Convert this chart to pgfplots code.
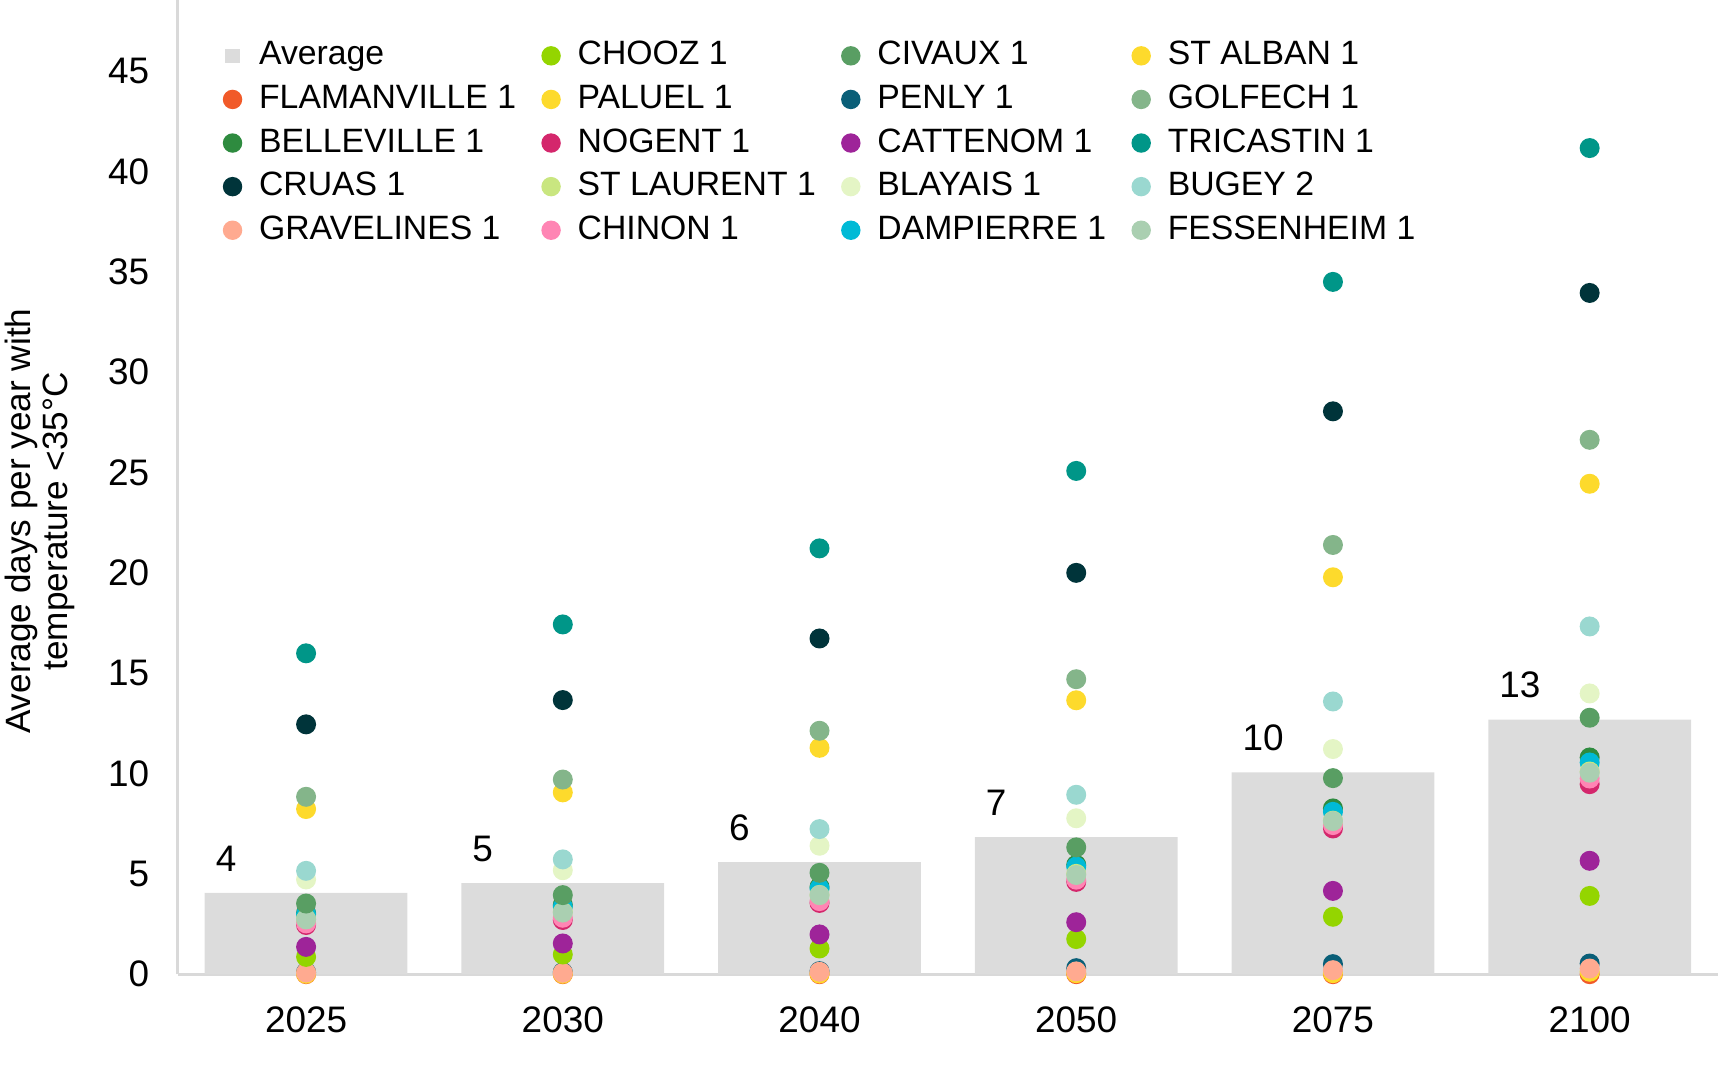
\documentclass[border=0pt]{standalone}
\usepackage{fontspec}
\setmainfont{Liberation Sans}
\usepackage{pgfplots}
\pgfplotsset{compat=1.18}
\definecolor{avg}{HTML}{DCDCDC}
\definecolor{axisgray}{HTML}{D9D9D9}
\definecolor{cFla}{HTML}{F15A29}
\definecolor{cBel}{HTML}{2E8B3F}
\definecolor{cCru}{HTML}{00343A}
\definecolor{cGra}{HTML}{FFAA90}
\definecolor{cCho}{HTML}{94D500}
\definecolor{cPal}{HTML}{FDDA2C}
\definecolor{cNog}{HTML}{D4276C}
\definecolor{cStL}{HTML}{C9E680}
\definecolor{cChi}{HTML}{FF85B4}
\definecolor{cCiv}{HTML}{599E63}
\definecolor{cPen}{HTML}{0A5F78}
\definecolor{cCat}{HTML}{9E2499}
\definecolor{cBla}{HTML}{E4F5C5}
\definecolor{cDam}{HTML}{00BAD6}
\definecolor{cSta}{HTML}{FDDA2C}
\definecolor{cGol}{HTML}{84B58A}
\definecolor{cTri}{HTML}{009688}
\definecolor{cBug}{HTML}{9AD8D0}
\definecolor{cFes}{HTML}{AACFB1}
\pgfplotsset{
  dotleg/.style={legend image code/.code={\fill[#1] (0cm,0cm) circle (0.09cm);}},
  sqleg/.style={legend image code/.code={\fill[#1] (-0.065cm,-0.065cm) rectangle (0.065cm,0.065cm);}},
  dot/.style={forget plot, only marks, mark=*, mark size=2.64pt, color=#1, mark options={draw=none, fill=#1}},
}
\begin{document}
\begin{tikzpicture}
\begin{axis}[
  name=ax,
  scale only axis,
  width=15.40cm, height=9.74cm,
  xmin=-0.5, xmax=5.5, ymin=0, ymax=48.55,
  axis x line*=bottom, axis y line*=left,
  axis line style={-, draw=axisgray, line width=0.9pt},
  every outer x axis line/.append style={-},
  every outer y axis line/.append style={-},
  xtick={0,...,5}, xticklabels={2025,2030,2040,2050,2075,2100},
  ytick={0,5,...,45},
  major tick length=0pt,
  tick style={draw=none},
  /pgf/number format/assume math mode=true,
  tick label style={font=\fontsize{10.5}{12}\selectfont},
  xticklabel style={yshift=-0.2cm},
  yticklabel style={xshift=-0.162cm},
  ylabel={Average days per year with\\temperature <35°C},
  ylabel style={at={(axis description cs:-0.0894,0.465)}, anchor=center, align=center, font=\fontsize{10}{10.5}\selectfont},
  clip=false,
  legend columns=5, transpose legend,
  legend style={at={(axis description cs:0,1)}, anchor=north west, xshift=0.444cm, yshift=-0.337cm,
    draw=none, fill=none, inner xsep=0pt, inner ysep=0pt,
    font=\fontsize{9.6}{11.5}\selectfont, cells={anchor=west}, row sep=0.2pt,
    /tikz/every odd column/.append style={column sep=2.8pt},
    /tikz/every even column/.append style={column sep=5.2pt}},
]
% legend
\addlegendimage{sqleg=avg}\addlegendentry{Average}
\addlegendimage{dotleg=cFla}\addlegendentry{FLAMANVILLE 1}
\addlegendimage{dotleg=cBel}\addlegendentry{BELLEVILLE 1}
\addlegendimage{dotleg=cCru}\addlegendentry{CRUAS 1}
\addlegendimage{dotleg=cGra}\addlegendentry{GRAVELINES 1}
\addlegendimage{dotleg=cCho}\addlegendentry{CHOOZ 1}
\addlegendimage{dotleg=cPal}\addlegendentry{PALUEL 1}
\addlegendimage{dotleg=cNog}\addlegendentry{NOGENT 1}
\addlegendimage{dotleg=cStL}\addlegendentry{ST LAURENT 1}
\addlegendimage{dotleg=cChi}\addlegendentry{CHINON 1}
\addlegendimage{dotleg=cCiv}\addlegendentry{CIVAUX 1}
\addlegendimage{dotleg=cPen}\addlegendentry{PENLY 1}
\addlegendimage{dotleg=cCat}\addlegendentry{CATTENOM 1}
\addlegendimage{dotleg=cBla}\addlegendentry{BLAYAIS 1}
\addlegendimage{dotleg=cDam}\addlegendentry{DAMPIERRE 1}
\addlegendimage{dotleg=cSta}\addlegendentry{ST ALBAN 1}
\addlegendimage{dotleg=cGol}\addlegendentry{GOLFECH 1}
\addlegendimage{dotleg=cTri}\addlegendentry{TRICASTIN 1}
\addlegendimage{dotleg=cBug}\addlegendentry{BUGEY 2}
\addlegendimage{dotleg=cFes}\addlegendentry{FESSENHEIM 1}
% average bars
\addplot[forget plot, ybar, bar width=0.79, bar shift=0pt, fill=avg, draw=none,
  point meta=explicit symbolic, nodes near coords,
  every node near coord/.append style={anchor=south west, inner sep=0pt, xshift=-0.91cm, yshift=0.21cm, font=\fontsize{10.5}{12}\selectfont, text=black}]
  coordinates {(0,4.05) [4] (1,4.54) [5] (2,5.58) [6] (3,6.83) [7] (4,10.06) [10] (5,12.68) [13]};
% plants (x: 0=2025, 1=2030, 2=2040, 3=2050, 4=2075, 5=2100)
\addplot[dot=cPen] coordinates {(0,0.10) (1,0.10) (2,0.15) (3,0.30) (4,0.50) (5,0.53)};
\addplot[dot=cFla] coordinates {(0,0.00) (1,0.00) (2,0.00) (3,0.00) (4,0.00) (5,0.00)};
\addplot[dot=cPal] coordinates {(0,0.02) (1,0.02) (2,0.03) (3,0.05) (4,0.05) (5,0.12)};
\addplot[dot=cGra] coordinates {(0,0.08) (1,0.07) (2,0.12) (3,0.14) (4,0.20) (5,0.28)};
\addplot[dot=cCho] coordinates {(0,0.86) (1,0.98) (2,1.28) (3,1.75) (4,2.86) (5,3.90)};
\addplot[dot=cCat] coordinates {(0,1.36) (1,1.53) (2,1.98) (3,2.59) (4,4.15) (5,5.65)};
\addplot[dot=cBel] coordinates {(0,3.05) (1,3.45) (2,4.35) (3,5.45) (4,8.26) (5,10.80)};
\addplot[dot=cNog] coordinates {(0,2.45) (1,2.70) (2,3.55) (3,4.60) (4,7.26) (5,9.47)};
\addplot[dot=cChi] coordinates {(0,2.53) (1,2.81) (2,3.64) (3,4.71) (4,7.43) (5,9.75)};
\addplot[dot=cDam] coordinates {(0,2.99) (1,3.36) (2,4.27) (3,5.36) (4,8.09) (5,10.55)};
\addplot[dot=cStL] coordinates {(0,2.75) (1,3.10) (2,3.95) (3,5.00) (4,7.65) (5,10.10)};
\addplot[dot=cFes] coordinates {(0,2.73) (1,3.07) (2,3.94) (3,4.94) (4,7.63) (5,10.04)};
\addplot[dot=cCiv] coordinates {(0,3.52) (1,3.94) (2,5.05) (3,6.32) (4,9.77) (5,12.78)};
\addplot[dot=cBla] coordinates {(0,4.72) (1,5.18) (2,6.40) (3,7.77) (4,11.22) (5,13.99)};
\addplot[dot=cBug] coordinates {(0,5.15) (1,5.72) (2,7.23) (3,8.94) (4,13.59) (5,17.33)};
\addplot[dot=cSta] coordinates {(0,8.23) (1,9.06) (2,11.28) (3,13.65) (4,19.78) (5,24.44)};
\addplot[dot=cGol] coordinates {(0,8.84) (1,9.70) (2,12.13) (3,14.70) (4,21.39) (5,26.63)};
\addplot[dot=cCru] coordinates {(0,12.45) (1,13.66) (2,16.73) (3,20.00) (4,28.05) (5,33.95)};
\addplot[dot=cTri] coordinates {(0,15.99) (1,17.43) (2,21.22) (3,25.08) (4,34.50) (5,41.17)};
\end{axis}
\pgfresetboundingbox
\path[use as bounding box] ([xshift=-1.777cm,yshift=-1.06cm]ax.south west) rectangle ([xshift=0.02cm]ax.north east);
\end{tikzpicture}
\end{document}
